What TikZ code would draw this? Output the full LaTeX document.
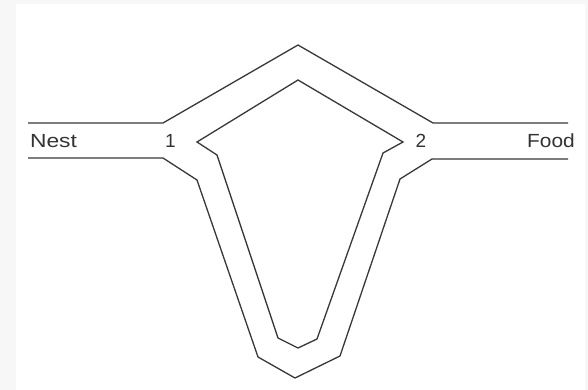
\documentclass[tikz,border=0pt]{standalone}
\usepackage{fontspec}
\setmainfont{Liberation Sans}
\begin{document}
\begin{tikzpicture}[x=1pt,y=-1pt,
  wall/.style={draw=black!78,line width=1.3pt,line join=miter},
  lbl/.style={inner sep=0pt,anchor=base,text=black!80,font=\fontsize{19}{22}\selectfont}]
\useasboundingbox (0,0) rectangle (588,390);
\fill[black!3] (0,0) rectangle (588,390);
\fill[white] (16,4) rectangle (585,390);
% outer upper wall
\draw[wall] (28,123) -- (163,123) -- (298,45) -- (433,123) -- (568,123);
% outer lower wall
\draw[wall] (28,158) -- (163,158) -- (197,180) -- (258,357) -- (295,378) -- (340,356) -- (400,179) -- (432,159) -- (568,159);
% inner island
\draw[wall] (197,142) -- (298,80) -- (403,142) -- (383,153) -- (317,339) -- (298,348) -- (278,338) -- (217,155) -- cycle;
% labels
\node[lbl] (nest) at (53.5,147) {\scalebox{1.2}[1]{Nest}};
\node[lbl] (food) at (551,147) {\scalebox{1.1}[1]{Food}};
\node[lbl] (one) at (170.5,147) {1};
\node[lbl] (two) at (421,147) {2};
\end{tikzpicture}
\end{document}
